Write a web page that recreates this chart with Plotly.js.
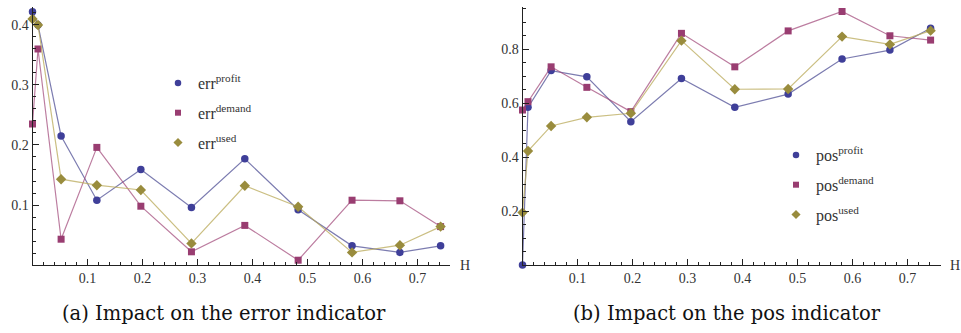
<!DOCTYPE html>
<html><head><meta charset="utf-8">
<script src="https://cdn.plot.ly/plotly-3.0.1.min.js"></script>
<style>html,body{margin:0;padding:0;background:#fff}#c{width:961px;height:333px}</style>
</head><body><div id="c"></div>
<script>
const H = [0, 0.01, 0.052, 0.117, 0.197, 0.289, 0.386, 0.483, 0.581, 0.668, 0.742];
const errProfit = [0.422, 0.400, 0.215, 0.108, 0.159, 0.096, 0.177, 0.092, 0.032, 0.021, 0.032];
const errDemand = [0.235, 0.360, 0.043, 0.196, 0.098, 0.022, 0.066, 0.008, 0.108, 0.107, 0.064];
const errUsed   = [0.410, 0.400, 0.143, 0.133, 0.125, 0.036, 0.132, 0.097, 0.021, 0.033, 0.064];
const posProfit = [0.000, 0.584, 0.720, 0.697, 0.531, 0.691, 0.584, 0.633, 0.763, 0.796, 0.877];
const posDemand = [0.574, 0.605, 0.734, 0.658, 0.568, 0.858, 0.734, 0.867, 0.939, 0.849, 0.833];
const posUsed   = [0.194, 0.422, 0.515, 0.547, 0.562, 0.831, 0.651, 0.652, 0.846, 0.817, 0.868];
const xTicks = [0.1, 0.2, 0.3, 0.4, 0.5, 0.6, 0.7];
const errTicks = [0.1, 0.2, 0.3, 0.4];
const posTicks = [0.2, 0.4, 0.6, 0.8];
const errNames = ['err<sup>profit</sup>', 'err<sup>demand</sup>', 'err<sup>used</sup>'];
const posNames = ['pos<sup>profit</sup>', 'pos<sup>demand</sup>', 'pos<sup>used</sup>'];
const captions = ['(a) Impact on the error indicator', '(b) Impact on the pos indicator'];

const mcol = ['#3f3f99', '#993d71', '#998c3d'];
const lcol = ['rgba(80,80,150,0.75)', 'rgba(160,70,120,0.7)', 'rgba(185,170,90,0.75)'];
const syms = ['circle', 'square', 'diamond'];
const msz = [7.5, 7, 8];

const traces = [];
function addSet(ys, names, xa, ya, leg) {
  ys.forEach((y, i) => {
    traces.push({x: H, y: y, xaxis: xa, yaxis: ya, mode: 'lines+markers', showlegend: false,
      cliponaxis: false, line: {color: lcol[i], width: 1.2},
      marker: {symbol: syms[i], size: msz[i], color: mcol[i]}, hoverinfo: 'skip'});
  });
  names.forEach((n, i) => {
    traces.push({x: [null], y: [null], xaxis: xa, yaxis: ya, mode: 'markers', name: n,
      legend: leg, legendgroup: leg + i,
      marker: {symbol: syms[i], size: msz[i] - 1, color: mcol[i]}});
  });
}
addSet([errProfit, errDemand, errUsed], errNames, 'x', 'y', 'legend');
addSet([posProfit, posDemand, posUsed], posNames, 'x2', 'y2', 'legend2');

const SERIF = '"Liberation Serif", "Times New Roman", serif';
const font = {family: SERIF, color: '#333', size: 14};
function xax(dom) {
  return {domain: dom, range: [0, 0.76], showgrid: false, zeroline: false, showline: true,
    linecolor: '#222', linewidth: 1, ticks: 'inside', ticklen: 6, tickcolor: '#222',
    tickvals: xTicks, ticktext: xTicks.map(v => v.toFixed(1)), tickfont: font,
    minor: {ticks: 'inside', ticklen: 3, dtick: 0.02, tick0: 0, tickcolor: '#222', showgrid: false}};
}
function yax(rng, tv, md, xa) {
  return {domain: [0.2042, 0.979], range: rng, anchor: xa, showgrid: false, zeroline: false, showline: true,
    linecolor: '#222', linewidth: 1, ticks: 'inside', ticklen: 6, tickcolor: '#222',
    tickvals: tv, ticktext: tv.map(v => v.toFixed(1)), tickfont: font,
    minor: {ticks: 'inside', ticklen: 3, dtick: md, tick0: 0, tickcolor: '#222', showgrid: false}};
}
const legFont = {family: SERIF, color: '#333', size: 16};
const capFont = {family: '"DejaVu Serif", serif', size: 19.5, color: '#111'};
const layout = {
  width: 961, height: 333, margin: {l: 0, r: 0, t: 0, b: 0},
  paper_bgcolor: '#fff', plot_bgcolor: '#fff', font: font,
  xaxis: xax([0.03382, 0.46878]), yaxis: yax([0, 0.43], errTicks, 0.02, 'x'),
  xaxis2: xax([0.54371, 0.97867]), yaxis2: yax([0, 0.9556], posTicks, 0.05, 'x2'),
  legend: {x: 158 / 961, y: 1 - 66 / 333, xanchor: 'left', yanchor: 'top', bgcolor: 'rgba(0,0,0,0)',
    font: legFont, tracegroupgap: 6, itemwidth: 30},
  legend2: {x: 776 / 961, y: 1 - 138 / 333, xanchor: 'left', yanchor: 'top', bgcolor: 'rgba(0,0,0,0)',
    font: legFont, tracegroupgap: 6, itemwidth: 30},
  annotations: [
    {text: 'H', xref: 'paper', yref: 'paper', x: 465 / 961, y: 1 - 265 / 333, showarrow: false,
      font: font, xanchor: 'center', yanchor: 'middle'},
    {text: 'H', xref: 'paper', yref: 'paper', x: 955 / 961, y: 1 - 265 / 333, showarrow: false,
      font: font, xanchor: 'center', yanchor: 'middle'},
    {text: captions[0], xref: 'paper', yref: 'paper', x: 224 / 961, y: 1 - 313 / 333, showarrow: false,
      font: capFont, xanchor: 'center', yanchor: 'middle'},
    {text: captions[1], xref: 'paper', yref: 'paper', x: 727 / 961, y: 1 - 313 / 333, showarrow: false,
      font: capFont, xanchor: 'center', yanchor: 'middle'}
  ]
};
Plotly.newPlot('c', traces, layout, {staticPlot: true, displayModeBar: false});
</script></body></html>
